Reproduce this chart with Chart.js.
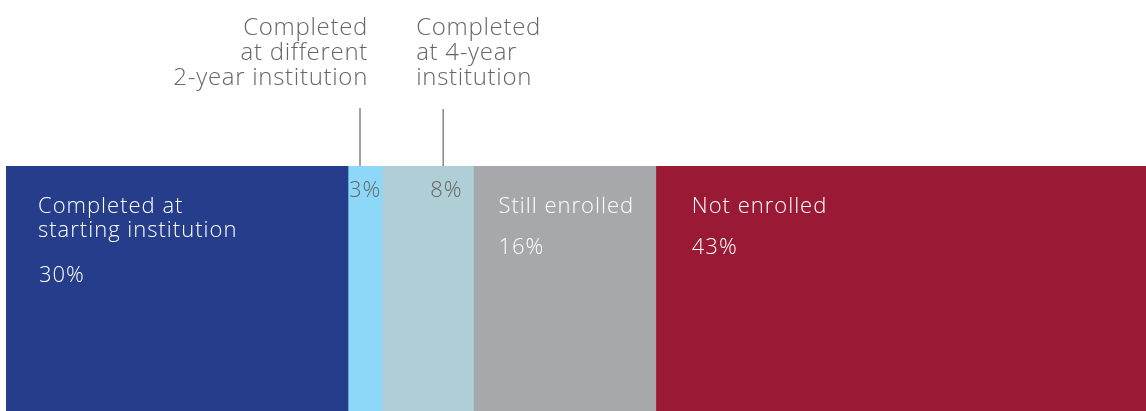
<!DOCTYPE html>
<html>
<head>
<meta charset="utf-8">
<script src="https://cdn.jsdelivr.net/npm/chart.js@4"></script>
<style>
  html, body { margin: 0; padding: 0; background: #fff; }
  #wrap { width: 1146px; height: 411px; position: relative; }
</style>
</head>
<body>
<div id="wrap"><canvas id="outcomeChart"></canvas></div>
<script>
// Outcomes of students who started at a 2-year institution
const categories = ['Completed at starting institution', 'Completed at different 2-year institution', 'Completed at 4-year institution', 'Still enrolled', 'Not enrolled'];
const values = [30, 3, 8, 16, 43];
const colors = ['#253D8A', '#8DD8F8', '#AFCED6', '#A7A8AB', '#9A1A35'];

const FONT = '"Open Sans", Lato, sans-serif';

// labels drawn on top of the bar, placed from the bar elements
const segmentLabels = {
    id: 'segmentLabels',
    afterDatasetsDraw(chart) {
        const ctx = chart.ctx;
        const bar = i => chart.getDatasetMeta(i).data[0];
        const top = i => bar(i).y - bar(i).height / 2;
        ctx.save();
        ctx.textBaseline = 'alphabetic';
        ctx.font = '300 22px ' + FONT;
        ctx.letterSpacing = '1px';

        // white labels inside the big segments
        ctx.fillStyle = '#ffffff';
        ctx.textAlign = 'left';
        let b = bar(0), t = top(0);
        ctx.fillText('Completed at', b.base + 32, t + 47);
        ctx.fillText('starting institution', b.base + 32, t + 71);
        ctx.fillText(values[0] + '%', b.base + 33, t + 116);

        b = bar(3); t = top(3);
        ctx.fillText(categories[3], b.base + 25, t + 47);
        ctx.fillText(values[3] + '%', b.base + 25, t + 88);

        b = bar(4); t = top(4);
        ctx.fillText(categories[4], b.base + 36, t + 47);
        ctx.fillText(values[4] + '%', b.base + 36, t + 88);

        // small segments get grey numbers
        ctx.fillStyle = '#666666';
        b = bar(1); t = top(1);
        ctx.fillText(values[1] + '%', b.base + 1, t + 31);
        b = bar(2);
        ctx.fillText(values[2] + '%', b.base + 48, t + 31);

        // leader lines and callouts above the bar
        ctx.strokeStyle = '#888888';
        ctx.lineWidth = 1.5;
        const x1 = bar(1).base + 12, x2 = bar(2).base + 61;
        ctx.beginPath();
        ctx.moveTo(x1, 108); ctx.lineTo(x1, t);
        ctx.moveTo(x2, 109); ctx.lineTo(x2, t);
        ctx.stroke();

        ctx.font = '300 24px ' + FONT;
        ctx.letterSpacing = '0.7px';
        ctx.fillStyle = '#666666';
        ctx.textAlign = 'right';
        ['Completed', 'at different', '2-year institution'].forEach((s, k) => {
            ctx.fillText(s, x1 + 8, 35 + k * 25);
        });
        ctx.textAlign = 'left';
        ['Completed', 'at 4-year', 'institution'].forEach((s, k) => {
            ctx.fillText(s, x2 - 27, 35 + k * 25);
        });
        ctx.restore();
    }
};

new Chart(document.getElementById('outcomeChart'), {
    type: 'bar',
    data: {
        labels: ['Outcome'],
        datasets: categories.map((c, i) => ({
            label: c,
            data: [values[i]],
            backgroundColor: colors[i],
            borderWidth: 0,
            barPercentage: 1,
            categoryPercentage: 1
        }))
    },
    options: {
        indexAxis: 'y',
        responsive: true,
        maintainAspectRatio: false,
        animation: false,
        layout: { padding: { top: 166, left: 6, right: 0, bottom: 0 } },
        scales: {
            x: { stacked: true, min: 0, max: 100, display: false },
            y: { stacked: true, display: false }
        },
        plugins: {
            legend: { display: false },
            tooltip: { enabled: false }
        }
    },
    plugins: [segmentLabels]
});
</script>
</body>
</html>
